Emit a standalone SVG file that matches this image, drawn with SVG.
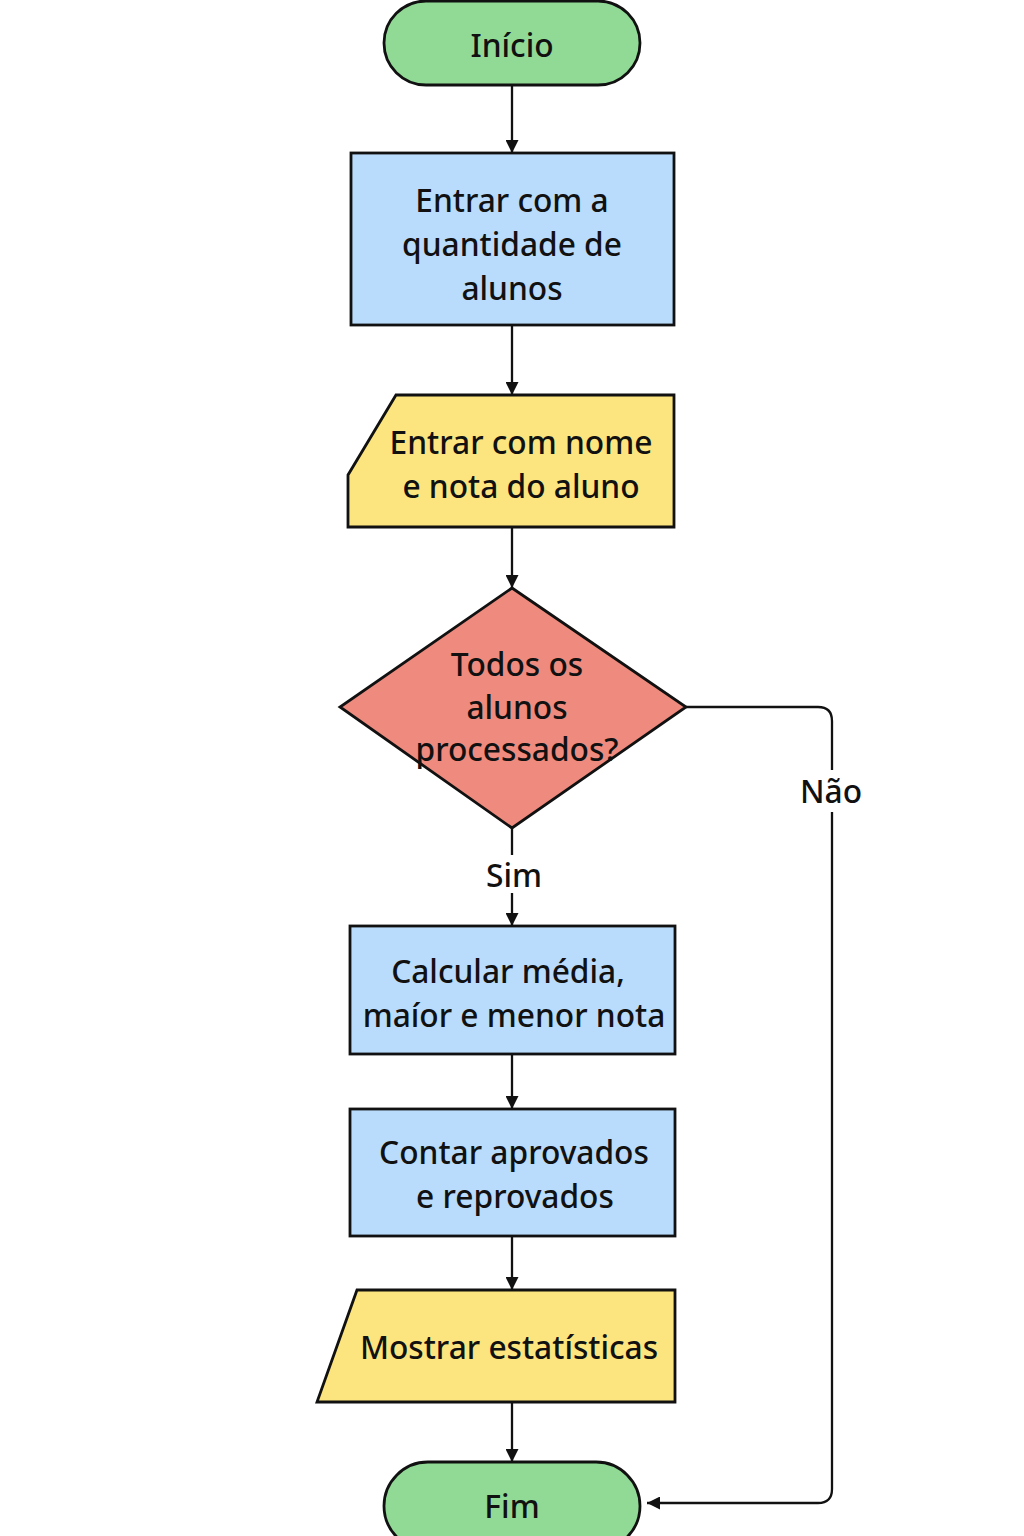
<svg xmlns="http://www.w3.org/2000/svg" width="1024" height="1536" viewBox="0 0 1024 1536">
<style>
.n{stroke:#111;stroke-width:2.8}
.txt{font-family:"Noto Sans","Liberation Sans",sans-serif;font-size:31.7px;font-weight:500;fill:#111;text-anchor:middle;dominant-baseline:central}
.c{fill:none;stroke:#111;stroke-width:2.3}
.term{fill:#90da96}
.proc{fill:#badcfc}
.io{fill:#fce57e}
.dec{fill:#ef8b7e}
</style>
<defs>
<marker id="ah2" viewBox="0 0 12 12" refX="12" refY="6" markerWidth="13" markerHeight="13" orient="auto" markerUnits="userSpaceOnUse">
<path d="M0,0 L12,6 L0,12 Z" fill="#111"/>
</marker>
</defs>
<rect width="1024" height="1536" fill="#fff"/>
<g id="connectors">
<line class="c" x1="512" y1="85" x2="512" y2="153" marker-end="url(#ah2)"/>
<line class="c" x1="512" y1="325" x2="512" y2="395" marker-end="url(#ah2)"/>
<line class="c" x1="512" y1="527" x2="512" y2="588" marker-end="url(#ah2)"/>
<line class="c" x1="512" y1="828" x2="512" y2="855"/>
<line class="c" x1="512" y1="893" x2="512" y2="926" marker-end="url(#ah2)"/>
<line class="c" x1="512" y1="1054" x2="512" y2="1109" marker-end="url(#ah2)"/>
<line class="c" x1="512" y1="1236" x2="512" y2="1290" marker-end="url(#ah2)"/>
<line class="c" x1="512" y1="1402" x2="512" y2="1462" marker-end="url(#ah2)"/>
<path class="c" d="M686,707 H818 Q832,707 832,721 V770"/>
<path class="c" d="M832,812 V1489 Q832,1503 818,1503 H647" marker-end="url(#ah2)"/>
<text class="txt" x="514" y="874">Sim</text>
<text class="txt" x="831" y="790">Não</text>
</g>
<g id="inicio">
<rect class="n term" x="384" y="1" width="256" height="84" rx="42"/>
<text class="txt" x="512" y="44">Início</text>
</g>
<g id="entrar-quantidade">
<rect class="n proc" x="351" y="153" width="323" height="172"/>
<text class="txt" x="512" y="199">Entrar com a</text>
<text class="txt" x="512" y="243">quantidade de</text>
<text class="txt" x="512" y="287">alunos</text>
</g>
<g id="entrar-nome">
<path class="n io" d="M396,395 H674 V527 H348 V475 Z"/>
<text class="txt" x="521" y="441">Entrar com nome</text>
<text class="txt" x="521" y="485">e nota do aluno</text>
</g>
<g id="decisao">
<path class="n dec" d="M512,588 L686,707 L512,828 L340,707 Z"/>
<text class="txt" x="517" y="663">Todos os</text>
<text class="txt" x="517" y="706">alunos</text>
<text class="txt" x="517" y="748">processados?</text>
</g>
<g id="calcular">
<rect class="n proc" x="350" y="926" width="325" height="128"/>
<text class="txt" x="508" y="970">Calcular média,</text>
<text class="txt" x="514" y="1014">maíor e menor nota</text>
</g>
<g id="contar">
<rect class="n proc" x="350" y="1109" width="325" height="127"/>
<text class="txt" x="514" y="1151">Contar aprovados</text>
<text class="txt" x="515" y="1195">e reprovados</text>
</g>
<g id="mostrar">
<path class="n io" d="M357,1290 H675 V1402 H317 Z"/>
<text class="txt" x="509" y="1346">Mostrar estatísticas</text>
</g>
<g id="fim">
<rect class="n term" x="384" y="1462" width="256" height="88" rx="44"/>
<text class="txt" x="512" y="1505">Fim</text>
</g>
</svg>
